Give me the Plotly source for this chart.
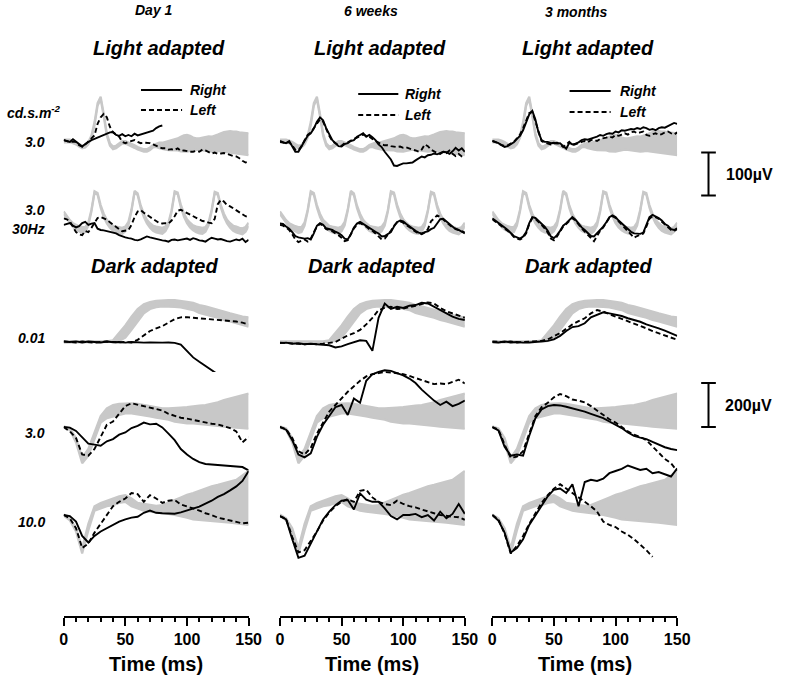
import numpy as np
import plotly.graph_objects as go

W, H = 790, 689


def px2x(px):
    return px / W


def py2y(py):
    return 1 - py / H


# ---------------- time grids (ms) ----------------
t_la = np.arange(0, 150.01, 2.5)   # light-adapted recordings
t_da = np.arange(0, 150.01, 5.0)   # dark-adapted recordings

columns = ["Day 1", "6 weeks", "3 months"]
row_labels = ["3.0", "3.0", "0.01", "3.0", "10.0"]

# ---------------- normal range bands (µV) ----------------
la3_lo = [-3, -3, -3, -5, -8, -13, -17, -15, -8, 7,
          36, 82, 97, 57, 12, -11, -19, -17, -11, -6,
          -6, -9, -13, -16, -20, -23, -25, -25, -21, -15,
          -14, -17, -19, -20, -21, -21, -21, -22, -24, -25,
          -25, -23, -21, -20, -21, -22, -24, -25, -25, -24,
          -23, -24, -25, -26, -27, -28, -29, -30, -32, -33,
          -33]
la3_hi = [3, 3, 3, 1, -2, -7, -11, -9, -2, 13,
          44, 88, 103, 63, 18, -5, -13, -11, -5, 0,
          0, -3, -7, -10, -14, -17, -19, -19, -15, -9,
          -6, -4, -4, -2, 0, 2, 3, 6, 10, 13,
          14, 12, 8, 6, 6, 8, 10, 11, 10, 12,
          15, 18, 21, 22, 23, 22, 22, 20, 19, 18,
          18]
la30_lo = [37, 27, 16, 7, 1, -3, -7, -5,
           10, 43, 86, 82, 52, 30, 15, 5, -2, -6, -8, -9, -3,
           11, 44, 87, 81, 51, 30, 15, 5, -2, -6, -8, -9, -3,
           10, 42, 86, 83, 53, 31, 16, 6, -1, -5, -8, -9, -4,
           10, 43, 85, 82, 52, 30, 15, 5, -2, -6, -8, -10, -4,
           9]
la30_hi = [43, 33, 23, 16, 12, 9, 7, 7,
           18, 47, 90, 86, 58, 38, 24, 16, 10, 8, 6, 5, 8,
           19, 48, 91, 85, 57, 38, 24, 16, 10, 8, 6, 5, 8,
           18, 46, 90, 87, 59, 39, 25, 17, 11, 8, 6, 5, 7,
           18, 47, 89, 86, 58, 38, 24, 16, 10, 8, 5, 4, 7,
           17]
da001_lo = [-3, -3, -3, -3, -3, -3, -3, -3, 0, 5,
            20, 55, 95, 130, 150, 158, 162, 162, 160, 157,
            152, 145, 132, 126, 117, 110, 100, 94, 85, 78,
            70]
da001_hi = [3, 3, 3, 3, 3, 3, 3, 3, 8, 40,
            75, 115, 150, 172, 182, 187, 190, 190, 190, 188,
            183, 178, 168, 162, 153, 147, 138, 130, 122, 116,
            112]
da3_lo = [-3, -14, -70, -165, -130, -50, 20, 40, 47, 55,
          62, 62, 58, 55, 48, 42, 39, 33, 24, 20,
          16, 16, 14, 10, 8, 5, 2, 0, -2, -5,
          -8]
da3_hi = [3, -6, -50, -140, -100, -20, 50, 85, 100, 105,
          108, 108, 105, 100, 97, 92, 85, 85, 85, 88,
          90, 92, 97, 100, 105, 112, 122, 130, 135, 145,
          152]
da10_lo = [-3, -25, -75, -175, -70, 20, 30, 40, 45, 55,
           60, 40, 30, 20, 15, 12, 10, 5, 0, -5,
           -12, -20, -22, -24, -26, -28, -32, -35, -38, -42,
           -45]
da10_hi = [3, -15, -60, -150, -40, 40, 55, 65, 75, 85,
           90, 75, 55, 50, 45, 42, 45, 55, 68, 80,
           92, 100, 110, 122, 130, 137, 145, 152, 160, 180,
           200]

# ---------------- Light adapted 3.0 (µV) ----------------
la3_day1_right = [2, 0, -2, 4, -2, -7, -13, -7, -2, 2,
                  5, 8, 10, 13, 16, 20, 21, 14, 12, 16,
                  11, 14, 11, 17, 13, 15, 18, 19, 22, 24,
                  30, 34, 36]
la3_day1_left = [2, 0, -2, -2, -2, -10, -13, -8, -2, 6,
                 13, 40, 55, 63, 55, 33, 20, 15, 10, -2,
                 -5, -2, 0, 2, -2, -5, -4, -4, -5, -8,
                 -11, -14, -17, -17, -20, -19, -21, -17, -23, -22,
                 -24, -25, -25, -23, -25, -20, -22, -25, -29, -27,
                 -30, -29, -28, -30, -33, -35, -36, -40, -46, -50,
                 -48]
la3_wk6_right = [-2, -4, -5, 0, -13, -25, -25, -14, 0, 12,
                 18, 29, 45, 55, 48, 30, 14, 2, -5, -12,
                 -13, -7, -5, 0, 2, 10, 14, 18, 10, 14,
                 9, 2, -8, -14, -25, -33, -43, -57, -58, -55,
                 -52, -52, -51, -50, -45, -40, -36, -38, -33, -32,
                 -29, -31, -27, -25, -26, -30, -24, -16, -22, -17,
                 -25]
la3_wk6_left = [0, -3, -6, -2, -10, -20, -22, -12, 2, 14,
                20, 30, 42, 50, 45, 28, 12, 0, -6, -10,
                -11, -5, -3, 2, 5, 8, 12, 15, 12, 10,
                5, 0, -5, -8, -10, -10, -12, -13, -14, -13,
                -16, -15, -18, -20, -22, -25, -20, -8, -12, -20,
                -24, -28, -30, -25, -28, -22, -30, -35, -30, -36,
                -38]
la3_mo3_right = [0, -2, -5, -10, -14, -12, -8, -3, 5, 12,
                 25, 45, 62, 70, 50, 20, 2, -2, -2, -5,
                 -4, -6, -5, -12, -18, -4, -8, -6, -3, 2,
                 4, 3, 6, 8, 10, 14, 12, 16, 18, 17,
                 22, 20, 25, 24, 26, 28, 27, 30, 28, 32,
                 30, 26, 28, 25, 30, 32, 31, 35, 38, 42,
                 40]
la3_mo3_left = [0, -2, -6, -10, -12, -10, -6, -2, 6, 15,
                30, 50, 65, 68, 45, 18, 0, -4, -6, -8,
                -6, -4, -8, -14, -8, -2, -10, -8, -5, -2,
                0, -3, 2, 3, 0, 5, 6, 8, 10, 8,
                14, 12, 15, 18, 15, 20, 22, 18, 20, 22,
                14, 12, 16, 18, 14, 16, 20, 22, 18, 15,
                20]

# ---------------- Light adapted 3.0 30Hz flicker (µV) ----------------
la30_day1_right = [12, 14, 16, 10, 6, 9, 16, 19, 12, 15,
                   16, 3, 0, -1, -3, -5, -6, -8, -12, -15,
                   -17, -19, -20, -23, -24, -22, -19, -15, -17, -19,
                   -21, -22, -24, -25, -27, -23, -22, -24, -23, -21,
                   -20, -23, -19, -21, -24, -25, -27, -22, -18, -20,
                   -22, -21, -24, -26, -27, -25, -22, -24, -20, -28,
                   -23]
la30_day1_left = [27, 25, 20, 8, -5, -10, -12, -2, -5, 5,
                  18, 28, 30, 27, 24, 18, 12, 6, 2, -3,
                  -2, 0, 12, 30, 43, 46, 40, 35, 30, 25,
                  20, 16, 15, 16, 15, 22, 32, 45, 47, 43,
                  40, 36, 33, 28, 24, 21, 20, 17, 16, 26,
                  60, 70, 66, 58, 55, 50, 46, 40, 36, 32,
                  30]
la30_wk6_right = [15, 14, 8, 3, -5, -14, -17, -19, -20, -19,
                  -22, -8, 10, 16, 12, 4, 2, 0, -4, -7,
                  -12, -20, -22, -10, 6, 15, 19, 14, 10, 4,
                  0, -4, -8, -15, -14, -10, -5, 8, 18, 22,
                  20, 14, 8, 4, -2, -6, -8, -5, -3, 2,
                  5, 15, 25, 26, 20, 12, 8, 2, 0, -5,
                  -8]
la30_wk6_left = [12, 10, 6, 0, -10, -22, -28, -25, -22, -27,
                 -20, -5, 8, 14, 10, 2, 0, -3, -8, -12,
                 -18, -26, -24, -8, 4, 12, 16, 12, 8, 2,
                 -2, -8, -14, -22, -20, -12, -2, 10, 18, 20,
                 17, 12, 6, 0, -4, -8, -10, -6, 2, 20,
                 28, 34, 30, 24, 18, 12, 6, 3, 0, -4,
                 -6]
la30_mo3_right = [27, 22, 18, 12, 6, 0, -6, -14, -17, -20,
                  -15, -5, 16, 30, 28, 22, 15, 8, -2, -15,
                  -19, -12, -2, 10, 16, 24, 30, 24, 14, 6,
                  0, -8, -14, -15, -8, 0, 8, 18, 30, 34,
                  30, 22, 15, 8, 2, -4, -8, -8, -9, -6,
                  10, 30, 35, 32, 28, 22, 14, 10, 2, 0,
                  4]
la30_mo3_left = [25, 20, 15, 10, 4, -2, -8, -16, -20, -22,
                 -18, -8, 14, 28, 26, 20, 12, 4, -6, -20,
                 -24, -15, -4, 8, 14, 22, 28, 22, 12, 4,
                 -4, -12, -20, -26, -14, -2, 6, 16, 28, 32,
                 28, 20, 12, 4, -4, -12, -18, -14, -10, -8,
                 8, 26, 32, 30, 26, 20, 12, 8, 0, -2,
                 2]

# ---------------- Dark adapted 0.01 (µV) ----------------
da001_day1_right = [2, 0, 3, -2, 2, 0, -2, 2, -1, 0,
                    -3, 0, -2, -3, -2, -4, -3, -2, -4, -12,
                    -40, -70, -90, -110, -130, -150, -170, -185, -200, -215,
                    -230]
da001_day1_left = [2, 0, -2, 2, 0, -3, 0, 2, 0, -2,
                   0, -2, 10, 30, 50, 62, 72, 88, 104, 112,
                   113, 110, 108, 106, 104, 102, 100, 97, 93, 88,
                   80]
da001_wk6_right = [-5, -3, -8, -6, -10, -8, -10, -12, -15, -25,
                   -20, -10, 0, 8, 5, -40, 110, 175, 150, 160,
                   155, 165, 168, 178, 175, 160, 145, 128, 115, 105,
                   100]
da001_wk6_left = [-3, -5, -6, -8, -10, -8, -10, -8, -5, 0,
                  15, 30, 40, 55, 80, 110, 145, 155, 160, 150,
                  152, 160, 165, 172, 180, 175, 155, 140, 130, 120,
                  110]
da001_mo3_right = [0, -2, 2, -2, 0, -3, -2, 0, 2, 5,
                   12, 28, 50, 68, 72, 85, 112, 125, 135, 130,
                   125, 118, 108, 100, 92, 80, 72, 62, 52, 40,
                   28]
da001_mo3_left = [2, 0, 0, 2, -2, 0, 2, 3, 5, 12,
                  25, 40, 60, 80, 95, 108, 130, 145, 138, 125,
                  115, 105, 95, 85, 75, 62, 50, 40, 30, 18,
                  10]

# ---------------- Dark adapted 3.0 (µV) ----------------
da3_day1_right = [0, -3, -18, -48, -76, -80, -85, -65, -55, -35,
                  -25, -5, 5, 20, 12, 15, -2, -30, -60, -100,
                  -125, -145, -160, -168, -170, -172, -174, -176, -178, -182,
                  -197]
da3_day1_left = [0, -20, -50, -125, -130, -100, -45, 10, 25, 60,
                 95, 108, 102, 95, 90, 82, 75, 60, 50, 42,
                 38, 32, 26, 20, 15, 12, 5, -5, -20, -70,
                 -45]
da3_wk6_right = [0, -12, -60, -125, -138, -120, -45, 10, 50, 90,
                 100, 55, 130, 110, 210, 240, 250, 258, 255, 245,
                 235, 220, 200, 170, 145, 120, 100, 115, 95, 105,
                 120]
da3_wk6_left = [0, -10, -50, -110, -125, -95, -30, 20, 70, 100,
                130, 160, 185, 210, 230, 240, 245, 250, 248, 245,
                240, 232, 222, 215, 205, 195, 198, 195, 205, 215,
                198]
da3_mo3_right = [0, -15, -90, -130, -125, -130, -40, 40, 80, 95,
                 100, 98, 92, 85, 80, 70, 60, 50, 40, 25,
                 10, -5, -25, -40, -48, -55, -68, -80, -92, -100,
                 -105]
da3_mo3_left = [0, -12, -80, -140, -135, -110, -30, 50, 90, 110,
                135, 150, 140, 125, 120, 112, 95, 75, 55, 35,
                20, 0, -20, -35, -45, -60, -90, -120, -145, -165,
                -200]

# ---------------- Dark adapted 10.0 (µV) ----------------
da10_day1_right = [0, -5, -30, -95, -125, -95, -75, -60, -45, -30,
                   -20, -12, -8, 10, 20, 10, 8, 8, 6, 12,
                   20, 30, 38, 52, 65, 82, 95, 112, 130, 155,
                   200]
da10_day1_left = [0, -15, -60, -150, -130, -80, -40, 0, 40, 60,
                  75, 100, 95, 60, 90, 75, 55, 65, 68, 48,
                  40, 30, 20, 8, 0, -12, -18, -25, -30, -38,
                  -35]
da10_wk6_right = [-5, -20, -110, -195, -185, -130, -80, -20, 15, 45,
                  65, 68, 25, 98, 70, 60, 60, 30, -5, -20,
                  0, 0, 5, -10, 0, -25, 15, -15, 5, 50,
                  5]
da10_wk6_left = [-5, -18, -100, -170, -160, -120, -75, -25, 12, 40,
                 60, 72, 60, 110, 115, 80, 60, 50, 45, 65,
                 50, 40, 35, 25, 15, 8, 0, -5, -8, -10,
                 -22]
da10_mo3_right = [0, -25, -80, -170, -150, -110, -45, 0, 45, 85,
                  115, 120, 100, 140, 40, 150, 160, 155, 165, 190,
                  200, 210, 225, 215, 205, 210, 190, 195, 185, 175,
                  212]
da10_mo3_left = [0, -20, -85, -175, -140, -95, -40, 10, 55, 90,
                 120, 140, 120, 100, 80, 60, 40, 15, -30, -45,
                 -55, -75, -90, -110, -135, -160, -190]

# ---------------- assemble ----------------
GREY = "rgb(200,200,200)"
FONT = "Liberation Sans, Arial, sans-serif"
NARROW = "Liberation Sans Narrow, Arial Narrow, Liberation Sans, Arial, sans-serif"

# column pixel extents and row geometry (baseline px, px per µV, clip window px)
col_px = [(61, 250), (282, 471), (499, 688)]
rows = [
    dict(key="la3", t=t_la, band=(la3_lo, la3_hi), base=141, scale=0.43, top=55, bot=205,
         data=[(la3_day1_right, la3_day1_left), (la3_wk6_right, la3_wk6_left), (la3_mo3_right, la3_mo3_left)]),
    dict(key="la30", t=t_la, band=(la30_lo, la30_hi), base=230, scale=0.43, top=145, bot=262,
         data=[(la30_day1_right, la30_day1_left), (la30_wk6_right, la30_wk6_left), (la30_mo3_right, la30_mo3_left)]),
    dict(key="da001", t=t_da, band=(da001_lo, da001_hi), base=342, scale=0.22, top=270, bot=372,
         data=[(da001_day1_right, da001_day1_left), (da001_wk6_right, da001_wk6_left), (da001_mo3_right, da001_mo3_left)]),
    dict(key="da3", t=t_da, band=(da3_lo, da3_hi), base=427, scale=0.22, top=318, bot=505,
         data=[(da3_day1_right, da3_day1_left), (da3_wk6_right, da3_wk6_left), (da3_mo3_right, da3_mo3_left)]),
    dict(key="da10", t=t_da, band=(da10_lo, da10_hi), base=515, scale=0.22, top=410, bot=605,
         data=[(da10_day1_right, da10_day1_left), (da10_wk6_right, da10_wk6_left), (da10_mo3_right, da10_mo3_left)]),
]

fig = go.Figure()
layout = dict(
    width=W, height=H, margin=dict(l=0, r=0, t=0, b=0),
    paper_bgcolor="white", plot_bgcolor="rgba(0,0,0,0)", showlegend=False,
)

AXIS_PY = 617
for ci, (x0, x1) in enumerate(col_px):
    name = "xaxis" if ci == 0 else f"xaxis{ci+1}"
    layout[name] = dict(
        domain=[px2x(x0), px2x(x1)], range=[0, 150], anchor="free", position=py2y(AXIS_PY),
        side="bottom", showline=True, linecolor="black", linewidth=2,
        ticks="outside", tickmode="linear", tick0=0, dtick=50, ticklen=8, tickwidth=1.5,
        tickcolor="black", showgrid=False, zeroline=False, fixedrange=True,
        tickfont=dict(family=NARROW, size=16, color="black", weight="bold"),
        minor=dict(dtick=10, tick0=0, ticks="outside", ticklen=4, tickwidth=1.5, tickcolor="black",
                   showgrid=False),
    )
# scale-bar axis
layout["xaxis4"] = dict(domain=[px2x(705), px2x(735)], range=[0, 1], visible=False, fixedrange=True,
                        anchor="y2")

for ri, r in enumerate(rows):
    name = "yaxis" if ri == 0 else f"yaxis{ri+1}"
    layout[name] = dict(
        domain=[py2y(r["bot"]), py2y(r["top"])],
        range=[(r["base"] - r["bot"]) / r["scale"], (r["base"] - r["top"]) / r["scale"]],
        visible=False, fixedrange=True, anchor="x",
    )

# grey normal bands first
for ri, r in enumerate(rows):
    yref = "y" if ri == 0 else f"y{ri+1}"
    lo, hi = r["band"]
    assert len(lo) == len(r["t"]) and len(hi) == len(r["t"]), r["key"]
    for ci in range(3):
        xref = "x" if ci == 0 else f"x{ci+1}"
        fig.add_trace(go.Scatter(x=r["t"], y=lo, xaxis=xref, yaxis=yref, mode="lines",
                                 line=dict(color=GREY, width=2.2), hoverinfo="skip"))
        fig.add_trace(go.Scatter(x=r["t"], y=hi, xaxis=xref, yaxis=yref, mode="lines",
                                 line=dict(color=GREY, width=2.2), fill="tonexty",
                                 fillcolor=GREY, hoverinfo="skip"))

# recordings
for ri, r in enumerate(rows):
    yref = "y" if ri == 0 else f"y{ri+1}"
    for ci in range(3):
        xref = "x" if ci == 0 else f"x{ci+1}"
        right, left = r["data"][ci]
        assert len(right) <= len(r["t"]) and len(left) <= len(r["t"]), (r["key"], ci)
        fig.add_trace(go.Scatter(x=r["t"][:len(left)], y=left, xaxis=xref, yaxis=yref, mode="lines",
                                 name="Left", line=dict(color="black", width=1.9, dash="5px,3px")))
        fig.add_trace(go.Scatter(x=r["t"][:len(right)], y=right, xaxis=xref, yaxis=yref, mode="lines",
                                 name="Right", line=dict(color="black", width=1.9)))

# scale bars (in the µV scale of the light- and dark-adapted rows)
bar_la = [80, 180]     # 100 µV
bar_da = [0, 200]      # 200 µV
for yref, (b0, b1) in (("y2", bar_la), ("y4", bar_da)):
    fig.add_trace(go.Scatter(x=[0.5, 0.5, None, 0.25, 0.75, None, 0.25, 0.75],
                             y=[b0, b1, None, b0, b0, None, b1, b1],
                             xaxis="x4", yaxis=yref, mode="lines",
                             line=dict(color="black", width=2), hoverinfo="skip"))

fig.update_layout(**layout)

ann = []


def txt(s, px, py, size=13, italic=True, bold=True, xanchor="center", family=FONT):
    ann.append(dict(text=s, x=px2x(px), y=py2y(py), xref="paper", yref="paper", showarrow=False,
                    xanchor=xanchor, yanchor="middle",
                    font=dict(family=family, size=size, color="black",
                              weight="bold" if bold else "normal",
                              style="italic" if italic else "normal")))


# column headers
txt(columns[0], 153, 10, size=14)
txt(columns[1], 375, 11, size=14)
txt(columns[2], 585, 12, size=14)
for cx in (158, 384, 597):
    txt("Light adapted", cx, 48, size=20)
for cx in (154, 376, 597):
    txt("Dark adapted", cx, 266, size=20)

# legends
legend_pos = [(140, 182, 90, 110, 188), (362, 403, 94, 115, 408), (578, 620, 91, 112, 627)]
shapes = []
for (lx0, lx1, ly1, ly2, tx) in legend_pos:
    shapes.append(dict(type="line", xref="paper", yref="paper", x0=px2x(lx0), x1=px2x(lx1),
                       y0=py2y(ly1), y1=py2y(ly1), line=dict(color="black", width=2)))
    shapes.append(dict(type="line", xref="paper", yref="paper", x0=px2x(lx0), x1=px2x(lx1),
                       y0=py2y(ly2), y1=py2y(ly2), line=dict(color="black", width=2, dash="5px,3px")))
    txt("Right", tx, ly1, size=14, xanchor="left")
    txt("Left", tx, ly2, size=14, xanchor="left")

# row labels
txt("cd.s.m<sup>-2</sup>", 60, 112, size=14, xanchor="right")
txt(row_labels[0], 44, 142, size=14, xanchor="right")
txt(row_labels[1], 44, 210, size=14, xanchor="right")
txt("30Hz", 44, 229, size=14, xanchor="right")
txt(row_labels[2], 44, 338, size=14, xanchor="right")
txt(row_labels[3], 44, 433, size=14, xanchor="right")
txt(row_labels[4], 44, 522, size=14, xanchor="right")

# scale bar labels
ann.append(dict(text="100µV", x=px2x(736), xref="paper", y=sum(bar_la) / 2, yref="y2", showarrow=False,
                xanchor="left", yanchor="middle",
                font=dict(family=FONT, size=16, color="black", weight="bold")))
ann.append(dict(text="200µV", x=px2x(735), xref="paper", y=sum(bar_da) / 2, yref="y4", showarrow=False,
                xanchor="left", yanchor="middle",
                font=dict(family=FONT, size=16, color="black", weight="bold")))

# axis titles
for (x0, x1) in col_px:
    txt("Time (ms)", (x0 + x1) / 2, 664, size=20, italic=False, family=NARROW)

fig.update_layout(annotations=ann, shapes=shapes)
fig.write_html("out.html", config={"displayModeBar": False},
               post_script="document.body.style.margin='0px';document.body.style.overflow='hidden';")
